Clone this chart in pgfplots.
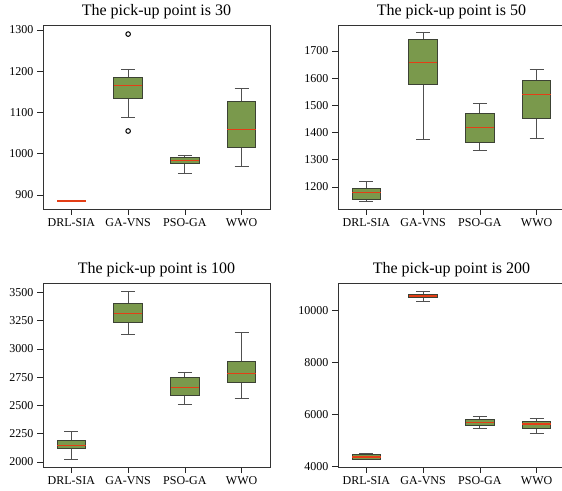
\documentclass[border=0pt]{standalone}
\usepackage{pgfplots}
\pgfplotsset{compat=1.18}
\usepackage{fontspec}
\setmainfont{Liberation Serif}
\definecolor{boxfill}{RGB}{122,153,76}
\definecolor{boxedge}{RGB}{60,66,52}
\definecolor{wskc}{RGB}{80,80,80}
\definecolor{medred}{RGB}{228,62,22}
\pgfplotsset{
  myax/.style={
    scale only axis, width=227pt, height=184pt,
    anchor=south west,
    xmin=0.5, xmax=4.5,
    xtick={1,2,3,4}, xticklabels={DRL-SIA,GA-VNS,PSO-GA,WWO},
    tick align=outside, xtick pos=bottom, ytick pos=left,
    major tick length=6pt,
    tick style={black!85, semithick},
    axis line style={black!80, semithick},
    scaled y ticks=false,
    /pgf/number format/assume math mode=true,
    /pgf/number format/1000 sep={},
    yticklabel style={font=\fontsize{12}{13}\selectfont},
    xticklabel style={font=\fontsize{12}{13}\selectfont},
    title style={font=\fontsize{16}{18}\selectfont, yshift=-3pt},
  },
  wsk/.style={draw=wskc, line width=0.8pt, mark=none},
  boxst/.style={fill=boxfill, draw=boxedge, line width=0.9pt, mark=none},
  medst/.style={draw=medred, line width=1.4pt, mark=none},
}
% \bx{position}{lower whisker}{lower quartile}{median}{upper quartile}{upper whisker}
\newcommand\bx[6]{%
  \pgfmathsetmacro\xa{#1-0.25}\pgfmathsetmacro\xb{#1+0.25}%
  \pgfmathsetmacro\ca{#1-0.125}\pgfmathsetmacro\cb{#1+0.125}%
  \edef\tmp{%
    \noexpand\addplot[wsk] coordinates {(#1,#2)(#1,#3)};
    \noexpand\addplot[wsk] coordinates {(#1,#5)(#1,#6)};
    \noexpand\addplot[wsk] coordinates {(\ca,#2)(\cb,#2)};
    \noexpand\addplot[wsk] coordinates {(\ca,#6)(\cb,#6)};
    \noexpand\addplot[boxst] coordinates {(\xa,#3)(\xb,#3)(\xb,#5)(\xa,#5)} -- cycle;
    \noexpand\addplot[medst] coordinates {(\xa,#4)(\xb,#4)};
  }\tmp}
\begin{document}
\begin{tikzpicture}
\path[use as bounding box] (0pt,0pt) rectangle (562pt,490pt);
% top-left
\begin{axis}[myax, at={(43pt,281pt)}, ymin=866, ymax=1312, ytick={900,1000,1100,1200,1300},
  title={The pick-up point is 30}]
\addplot[medst] coordinates {(0.75,885)(1.25,885)};
\bx{2}{1087}{1134}{1166}{1186}{1204}
\bx{3}{953}{976}{983}{991}{996}
\bx{4}{970}{1016}{1058}{1127}{1159}
\addplot[only marks, mark=o, mark size=2.3pt, draw=black, line width=1pt] coordinates {(2,1290)(2,1055)};
\end{axis}
% top-right
\begin{axis}[myax, at={(338pt,281pt)}, ymin=1119, ymax=1795, ytick={1200,1300,1400,1500,1600,1700},
  title={The pick-up point is 50}]
\bx{1}{1147}{1155}{1180}{1195}{1222}
\bx{2}{1373}{1577}{1658}{1742}{1767}
\bx{3}{1336}{1365}{1419}{1471}{1506}
\bx{4}{1377}{1450}{1539}{1593}{1631}
\end{axis}
% bottom-left
\begin{axis}[myax, at={(43pt,23pt)}, ymin=1956, ymax=3583, ytick={2000,2250,2500,2750,3000,3250,3500},
  title={The pick-up point is 100}]
\bx{1}{2027}{2122}{2148}{2190}{2273}
\bx{2}{3125}{3231}{3311}{3406}{3509}
\bx{3}{2506}{2589}{2657}{2749}{2796}
\bx{4}{2559}{2705}{2784}{2888}{3148}
\end{axis}
% bottom-right
\begin{axis}[myax, at={(338pt,23pt)}, ymin=3990, ymax=11054, ytick={4000,6000,8000,10000},
  title={The pick-up point is 200}]
\bx{1}{4285}{4296}{4373}{4462}{4515}
\bx{2}{10347}{10501}{10555}{10605}{10748}
\bx{3}{5479}{5583}{5698}{5814}{5914}
\bx{4}{5274}{5479}{5645}{5749}{5864}
\end{axis}
\end{tikzpicture}
\end{document}
